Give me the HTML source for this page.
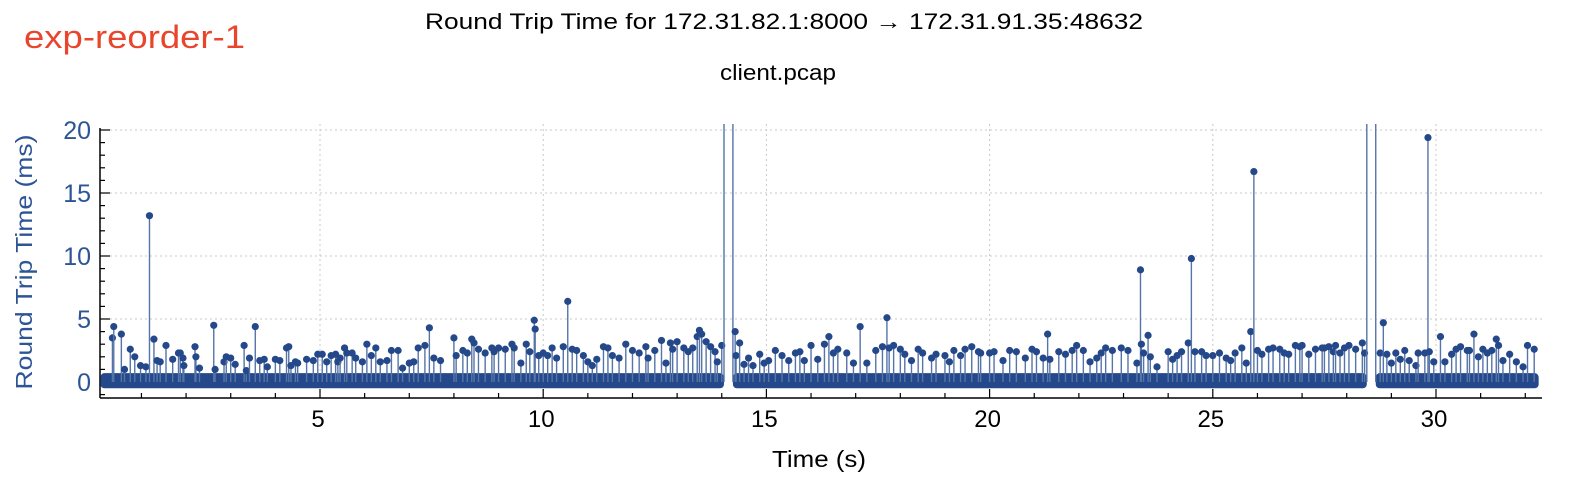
<!DOCTYPE html>
<html><head><meta charset="utf-8"><style>
html,body{margin:0;padding:0;background:#fff;width:1570px;height:482px;overflow:hidden}
text{font-family:"Liberation Sans",sans-serif}
</style></head><body>
<svg id="chart" width="1570" height="482" xmlns="http://www.w3.org/2000/svg">
<text x="24" y="48" font-size="32" fill="#e8452c" textLength="221" lengthAdjust="spacingAndGlyphs">exp-reorder-1</text>
<text x="425" y="29" font-size="22" fill="#000" textLength="718" lengthAdjust="spacingAndGlyphs">Round Trip Time for 172.31.82.1:8000 → 172.31.91.35:48632</text>
<text x="720" y="80" font-size="22" fill="#000" textLength="116" lengthAdjust="spacingAndGlyphs">client.pcap</text>
<text transform="translate(32,262) rotate(-90)" font-size="23" text-anchor="middle" fill="#2d5595" textLength="255" lengthAdjust="spacingAndGlyphs">Round Trip Time (ms)</text>
<text x="772" y="467" font-size="23" fill="#000" textLength="94" lengthAdjust="spacingAndGlyphs">Time (s)</text>
<defs><clipPath id="clip"><rect x="100" y="124" width="1442" height="274"/></clipPath></defs>
<g id="grid"></g><g id="axes"></g><g id="marks" clip-path="url(#clip)"></g>
</svg>
<script>
const xTicks=[5,10,15,20,25,30];
const yTicks=[0,5,10,15,20];
const segments=[[0.08,14.05],[14.25,28.45],[28.65,32.3]];
const times=[0.35,0.38,0.55,0.62,0.75,0.85,0.98,1.1,1.18,1.28,1.35,1.42,1.55,1.7,1.83,1.87,1.93,1.95,2.2,2.22,2.3,2.62,2.65,2.85,2.9,3.0,3.1,3.3,3.35,3.42,3.55,3.65,3.75,3.82,4.0,4.1,4.25,4.3,4.35,4.45,4.5,4.7,4.85,4.95,5.05,5.15,5.25,5.35,5.4,5.45,5.55,5.6,5.72,5.8,5.95,6.05,6.15,6.25,6.35,6.5,6.6,6.75,6.85,7.0,7.1,7.2,7.35,7.45,7.55,7.7,8.0,8.05,8.2,8.3,8.4,8.45,8.55,8.7,8.85,8.9,9.0,9.15,9.3,9.35,9.5,9.62,9.7,9.8,9.82,9.9,10.0,10.1,10.2,10.3,10.45,10.55,10.65,10.75,10.9,11.0,11.1,11.2,11.35,11.45,11.55,11.7,11.85,12.0,12.15,12.3,12.35,12.5,12.65,12.75,12.85,12.9,13.0,13.15,13.25,13.35,13.45,13.5,13.55,13.65,13.75,13.85,13.9,14.0,14.05,14.25,14.3,14.32,14.4,14.5,14.6,14.7,14.85,14.95,15.05,15.2,15.35,15.5,15.65,15.75,15.85,16.0,16.15,16.3,16.4,16.5,16.6,16.8,16.95,17.1,17.25,17.45,17.6,17.7,17.75,17.85,18.0,18.1,18.25,18.4,18.5,18.7,18.8,19.0,19.1,19.2,19.35,19.45,19.6,19.75,19.8,20.0,20.1,20.3,20.45,20.6,20.8,20.95,21.05,21.2,21.3,21.35,21.55,21.7,21.85,21.95,22.1,22.25,22.4,22.5,22.6,22.75,22.95,23.1,23.3,23.38,23.4,23.45,23.55,23.6,23.75,24.0,24.1,24.2,24.3,24.45,24.52,24.6,24.75,24.85,25.0,25.15,25.3,25.4,25.5,25.65,25.75,25.85,25.92,26.0,26.1,26.25,26.35,26.5,26.6,26.7,26.85,26.95,27.0,27.15,27.3,27.45,27.5,27.6,27.7,27.75,27.85,27.95,28.05,28.2,28.35,28.4,28.45,28.65,28.75,28.82,28.9,29.0,29.1,29.2,29.3,29.4,29.55,29.6,29.75,29.82,29.85,29.95,30.1,30.2,30.35,30.45,30.55,30.7,30.75,30.85,30.95,31.05,31.15,31.25,31.35,31.4,31.5,31.65,31.8,31.95,32.05,32.2];
const rtts=[3.5,4.4,3.8,1.0,2.6,2.0,1.3,1.2,13.2,3.4,1.7,1.6,2.9,1.8,2.3,2.3,1.9,1.3,2.8,2.0,1.1,4.5,1.0,1.6,2.0,1.9,1.4,2.9,0.9,1.9,4.4,1.7,1.8,1.2,1.8,1.7,2.7,2.8,1.3,1.6,1.5,1.8,1.7,2.2,2.2,1.6,2.1,2.2,1.6,1.9,2.7,2.3,2.3,1.9,1.6,3.0,2.1,2.7,1.6,1.7,2.5,2.5,1.1,1.5,1.6,2.7,2.9,4.3,1.9,1.7,3.5,2.1,2.5,2.3,3.4,3.1,2.6,2.3,2.7,2.4,2.7,2.6,3.0,2.7,1.5,3.0,2.4,4.9,4.2,2.1,2.3,2.1,2.7,1.9,2.8,6.4,2.6,2.5,2.1,1.6,1.3,1.8,2.8,2.7,2.1,1.9,3.0,2.5,2.3,2.8,1.9,2.5,3.3,1.5,3.1,2.6,3.2,2.7,2.4,2.7,3.6,4.1,3.8,3.2,2.8,2.4,1.6,2.9,100,100,4.0,2.1,3.1,1.4,1.9,1.3,2.2,1.5,1.7,2.5,2.1,1.7,2.3,2.4,1.7,2.9,1.8,3.0,3.6,2.3,2.6,2.3,1.5,4.4,1.5,2.5,2.8,5.1,2.7,2.9,2.6,2.2,1.7,2.6,2.3,1.9,2.2,2.1,1.6,2.5,2.1,2.6,2.8,2.4,2.3,2.3,2.4,1.7,2.5,2.4,1.9,2.6,2.4,1.9,3.8,1.8,2.4,2.2,2.5,2.9,2.5,1.6,1.9,2.3,2.7,2.5,2.7,2.5,1.5,8.9,3.0,2.3,3.7,2.0,1.2,2.4,1.8,2.1,2.4,3.1,9.8,2.4,2.4,2.1,2.1,2.3,1.9,1.7,2.3,2.7,1.5,4.0,16.7,2.5,2.2,2.6,2.7,2.6,2.3,2.2,2.9,2.8,2.9,2.2,2.6,2.7,2.7,2.8,2.4,2.9,2.3,2.7,2.9,2.6,3.1,2.3,100,100,2.3,4.7,2.2,1.5,2.3,1.8,2.5,1.7,1.3,2.3,2.3,19.4,2.4,1.6,3.6,1.6,2.2,2.6,2.8,2.5,2.5,3.8,2.0,2.6,2.3,2.5,3.4,2.9,1.7,2.2,1.6,1.2,2.9,2.6];
const NS='http://www.w3.org/2000/svg';
const X0=100,X1=1542,Y0=124,Y1=398;
const xs=t=>96.8+t*44.64;
const ys=v=>382-v*12.6;
const C='#24488a';
function mk(tag,attrs,parent){const e=document.createElementNS(NS,tag);for(const k in attrs)e.setAttribute(k,attrs[k]);parent.appendChild(e);return e;}
const grid=document.getElementById('grid'),axes=document.getElementById('axes'),marks=document.getElementById('marks');
xTicks.forEach(t=>{const l=mk('line',{x1:xs(t),x2:xs(t),y1:Y0,y2:Y1,stroke:'#c8c8c8','stroke-dasharray':'2,3'},grid);


const tx=mk('text',{x:xs(t)-2,y:427,'font-size':24,'text-anchor':'middle',fill:'#000'},axes);tx.textContent=t;

});
yTicks.forEach(v=>{if(v>0){const l=mk('line',{x1:X0,x2:X1,y1:ys(v),y2:ys(v),stroke:'#c8c8c8','stroke-dasharray':'2,3'},grid);

}
const tx=mk('text',{x:91,y:ys(v)+9,'font-size':25,'text-anchor':'end',fill:'#2d5595'},axes);tx.textContent=v;

});
for(let t=1;t<=32;t++){mk('line',{x1:xs(t),x2:xs(t),y1:Y1,y2:Y1-(t%5?5:9),stroke:'#000','stroke-width':1.2},axes);}
for(let v=-1;v<=20;v++){mk('line',{x1:X0,x2:X0+(v%5?5:10),y1:ys(v),y2:ys(v),stroke:'#000','stroke-width':1.2},axes);}
const ya=mk('line',{x1:X0,x2:X0,y1:Y0+4,y2:Y1,stroke:'#000','stroke-width':1.5},axes);


const xa=mk('line',{x1:X0,x2:X1,y1:Y1,y2:Y1,stroke:'#000','stroke-width':1.5},axes);


segments.forEach(s=>{const r=mk('rect',{x:xs(s[0]),y:ys(0.7),width:xs(s[1])-xs(s[0]),height:ys(-0.5)-ys(0.7),rx:4,fill:C},marks);

});
times.forEach((t,i)=>{const v=rtts[i];
const l=mk('line',{x1:xs(t),x2:xs(t),y1:ys(0),y2:ys(v),stroke:'#5574a8','stroke-width':1.4},marks);


const c=mk('circle',{cx:xs(t),cy:ys(v),r:3.6,fill:C},marks);

});
</script>
</body></html>
